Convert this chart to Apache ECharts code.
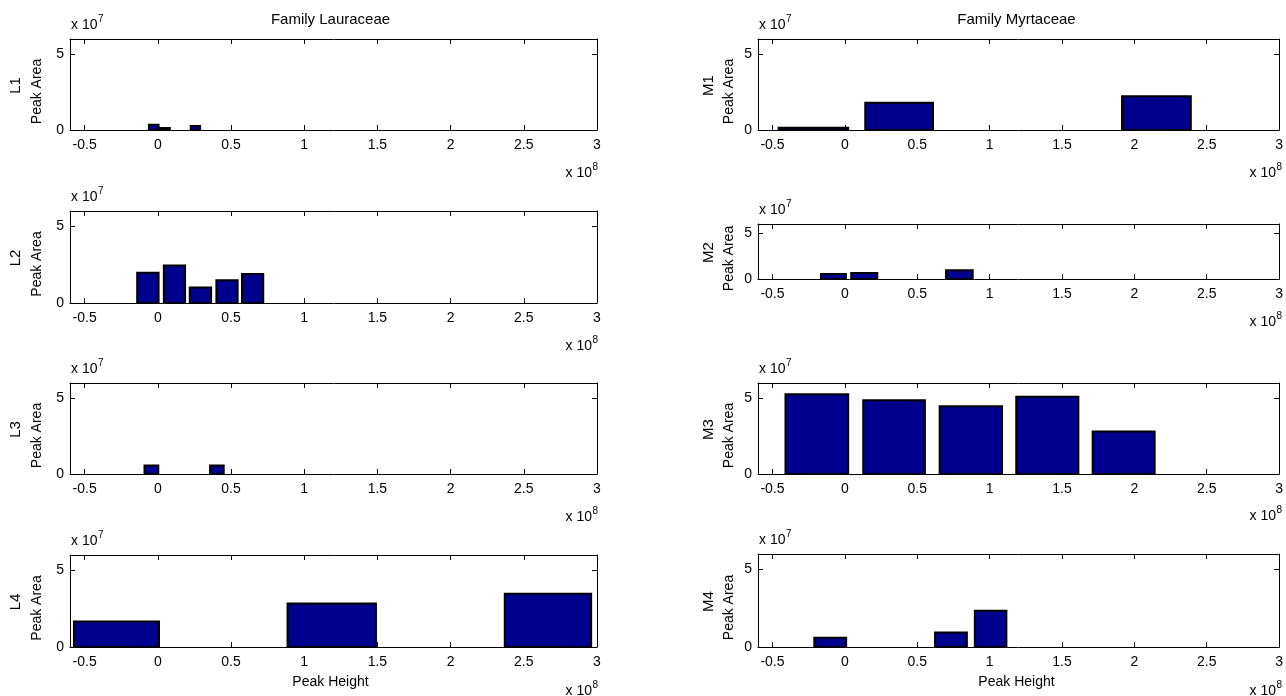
<!DOCTYPE html>
<html><head><meta charset="utf-8">
<script src="https://cdn.jsdelivr.net/npm/echarts@6/dist/echarts.min.js"></script>
<style>html,body{margin:0;padding:0;background:#fff}#c{width:1286px;height:696px}</style>
</head><body><div id="c"></div>
<script>
// ---------- text ----------
const familyTitles = ['Family Lauraceae', 'Family Myrtaceae'];
const panelNames = ['L1', 'L2', 'L3', 'L4', 'M1', 'M2', 'M3', 'M4'];
const yAxisTitle = 'Peak Area';
const xAxisTitle = 'Peak Height';
const xExponent = '8';
const yExponent = '7';
const expBase = 'x 10';

// ---------- axes (x in units of 1e8, y in units of 1e7) ----------
const xTicks = [-0.5, 0, 0.5, 1, 1.5, 2, 2.5, 3];
const yTicks = [0, 5];
const xRange = [-0.6, 3];
const yRange = [0, 6];

// ---------- data: bar left edge, right edge, height ----------
const L1_binStart = [-0.061, 0.014, 0.225];
const L1_binEnd   = [0.005, 0.082, 0.289];
const L1_peakArea = [0.35, 0.13, 0.26];

const L2_binStart = [-0.141, 0.041, 0.218, 0.400, 0.575];
const L2_binEnd   = [0.005, 0.186, 0.364, 0.545, 0.720];
const L2_peakArea = [1.97, 2.45, 1.01, 1.48, 1.89];

const L3_binStart = [-0.091, 0.357];
const L3_binEnd   = [0.003, 0.450];
const L3_peakArea = [0.56, 0.56];

const L4_binStart = [-0.573, 0.886, 2.370];
const L4_binEnd   = [0.008, 1.490, 2.960];
const L4_peakArea = [1.66, 2.83, 3.47];

const M1_binStart = [-0.457, 0.141, 1.915];
const M1_binEnd   = [0.023, 0.609, 2.390];
const M1_peakArea = [0.15, 1.80, 2.22];

const M2_binStart = [-0.165, 0.044, 0.699];
const M2_binEnd   = [0.007, 0.224, 0.883];
const M2_peakArea = [0.55, 0.65, 0.95];

const M3_binStart = [-0.410, 0.127, 0.655, 1.184, 1.712];
const M3_binEnd   = [0.023, 0.553, 1.086, 1.613, 2.140];
const M3_peakArea = [5.26, 4.87, 4.46, 5.09, 2.81];

const M4_binStart = [-0.211, 0.623, 0.898];
const M4_binEnd   = [0.009, 0.843, 1.116];
const M4_peakArea = [0.60, 0.94, 2.34];

const panelData = [
  [L1_binStart, L1_binEnd, L1_peakArea],
  [L2_binStart, L2_binEnd, L2_peakArea],
  [L3_binStart, L3_binEnd, L3_peakArea],
  [L4_binStart, L4_binEnd, L4_peakArea],
  [M1_binStart, M1_binEnd, M1_peakArea],
  [M2_binStart, M2_binEnd, M2_peakArea],
  [M3_binStart, M3_binEnd, M3_peakArea],
  [M4_binStart, M4_binEnd, M4_peakArea]
];

// ---------- layout ----------
const FONT = 'Liberation Sans, Arial, sans-serif';
const layout = [
  {left: 70, width: 527, top: 39, height: 91, expGap: 43},
  {left: 70, width: 527, top: 211, height: 92, expGap: 43},
  {left: 70, width: 527, top: 383, height: 91, expGap: 43},
  {left: 70, width: 527, top: 555, height: 92, expGap: 44},
  {left: 758, width: 523, top: 39, height: 91, expGap: 43},
  {left: 758, width: 523, top: 224, height: 55, expGap: 43},
  {left: 758, width: 523, top: 383, height: 91, expGap: 42},
  {left: 758, width: 523, top: 554, height: 93, expGap: 44}
];

const grids = [], xAxes = [], yAxes = [], series = [], graphics = [];
const black = '#000';

layout.forEach((g, i) => {
  grids.push({left: g.left, top: g.top, width: g.width, height: g.height, containLabel: false});
  const tickStyle = {color: black, width: 1};
  xAxes.push({
    type: 'value', gridIndex: i, min: xRange[0], max: xRange[1], position: 'bottom',
    axisLine: {show: true, onZero: false, lineStyle: tickStyle},
    axisTick: {show: true, inside: true, length: 5, customValues: xTicks, lineStyle: tickStyle},
    axisLabel: {show: true, customValues: xTicks, margin: 8, color: black, fontSize: 14, fontFamily: FONT,
      formatter: v => String(v)},
    splitLine: {show: false}
  });
  xAxes.push({
    type: 'value', gridIndex: i, min: xRange[0], max: xRange[1], position: 'top',
    axisLine: {show: true, onZero: false, lineStyle: tickStyle},
    axisTick: {show: true, inside: true, length: 5, customValues: xTicks, lineStyle: tickStyle},
    axisLabel: {show: false},
    splitLine: {show: false}
  });
  yAxes.push({
    type: 'value', gridIndex: i, min: yRange[0], max: yRange[1], position: 'left',
    axisLine: {show: true, onZero: false, lineStyle: tickStyle},
    axisTick: {show: true, inside: true, length: 5, customValues: yTicks, lineStyle: tickStyle},
    axisLabel: {show: true, customValues: yTicks, margin: 6, color: black, fontSize: 14, fontFamily: FONT},
    splitLine: {show: false}
  });
  yAxes.push({
    type: 'value', gridIndex: i, min: yRange[0], max: yRange[1], position: 'right',
    axisLine: {show: true, onZero: false, lineStyle: tickStyle},
    axisTick: {show: true, inside: true, length: 5, customValues: yTicks, lineStyle: tickStyle},
    axisLabel: {show: false},
    splitLine: {show: false}
  });

  const [s, e, h] = panelData[i];
  series.push({
    type: 'custom',
    xAxisIndex: i * 2, yAxisIndex: i * 2,
    encode: {x: [0, 1], y: 2},
    data: s.map((v, k) => [v, e[k], h[k]]),
    renderItem: (params, api) => {
      const p0 = api.coord([api.value(0), 0]);
      const p1 = api.coord([api.value(1), api.value(2)]);
      return {
        type: 'rect',
        shape: {x: p0[0], y: p1[1], width: p1[0] - p0[0], height: p0[1] - p1[1]},
        style: {fill: '#00008f', stroke: black, lineWidth: 2}
      };
    }
  });

  const right = g.left + g.width;
  const bottom = g.top + g.height;
  const midY = g.top + g.height / 2;
  const isLeft = i < 4;
  // y exponent label
  graphics.push({type: 'text', left: g.left + 1, top: g.top - 21,
    style: {text: expBase, fontSize: 14, fontFamily: FONT, fill: black}});
  graphics.push({type: 'text', left: g.left + 28, top: g.top - 25,
    style: {text: yExponent, fontSize: 10, fontFamily: FONT, fill: black}});
  // x exponent label
  graphics.push({type: 'text', x: right - 5, y: bottom + g.expGap,
    style: {text: expBase, fontSize: 14, fontFamily: FONT, fill: black, align: 'right', verticalAlign: 'middle'}});
  graphics.push({type: 'text', x: right - 4.5, y: bottom + g.expGap - 6,
    style: {text: xExponent, fontSize: 10, fontFamily: FONT, fill: black, align: 'left', verticalAlign: 'middle'}});
  // y axis title: panel name + Peak Area (rotated)
  const colName = isLeft ? 16 : 708.5;
  const colTitle = isLeft ? 37.5 : 729;
  graphics.push({type: 'text', x: colName, y: midY + 1, rotation: Math.PI / 2,
    style: {text: panelNames[i], fontSize: 15, fontFamily: FONT, fill: black, align: 'center', verticalAlign: 'middle'}});
  graphics.push({type: 'text', x: colTitle, y: midY + 7, rotation: Math.PI / 2,
    style: {text: yAxisTitle, fontSize: 14, fontFamily: FONT, fill: black, align: 'center', verticalAlign: 'middle'}});
  if (i === 3 || i === 7) {
    graphics.push({type: 'text', x: g.left + g.width / 2 - 3, y: bottom + 35,
      style: {text: xAxisTitle, fontSize: 14, fontFamily: FONT, fill: black, align: 'center', verticalAlign: 'middle'}});
  }
  if (i === 0 || i === 4) {
    graphics.push({type: 'text', x: g.left + g.width / 2 - 3, y: 20,
      style: {text: familyTitles[i === 0 ? 0 : 1], fontSize: 15, fontFamily: FONT, fill: black, align: 'center', verticalAlign: 'middle'}});
  }
});

const chart = echarts.init(document.getElementById('c'), null, {renderer: 'canvas'});
chart.setOption({
  animation: false,
  backgroundColor: '#fff',
  grid: grids,
  xAxis: xAxes,
  yAxis: yAxes,
  series: series,
  graphic: graphics
});
</script>
</body></html>
